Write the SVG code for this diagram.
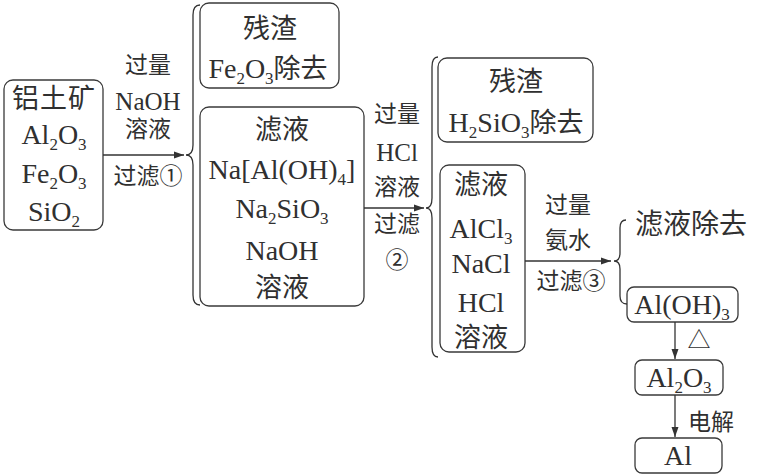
<svg xmlns="http://www.w3.org/2000/svg" width="757" height="475" viewBox="0 0 757 475">
<style>
text{font-family:"Liberation Serif","Noto Sans CJK SC",serif;fill:#303030;text-anchor:middle}
.b{font-size:28px}
.l{font-size:25px}
.c{font-size:27px}
.cl{font-size:23px}
.s{font-size:17px;baseline-shift:-6px}
.box{fill:none;stroke:#3a3a3a;stroke-width:1.3}
.ln{fill:none;stroke:#333;stroke-width:1.3}
</style>
<defs>
<marker id="ah" viewBox="0 0 10 10" refX="10" refY="5" markerWidth="10" markerHeight="10" markerUnits="userSpaceOnUse" orient="auto">
<path d="M0 1.5 L10 5 L0 8.5 Z" fill="#333"/>
</marker>
</defs>
<g id="n1">
<rect class="box" x="4" y="80" width="99" height="150" rx="9"/>
<text x="54" y="108" class="c" letter-spacing="1">铝土矿</text>
<text x="54" y="144" class="b">Al<tspan class="s">2</tspan>O<tspan class="s">3</tspan></text>
<text x="54" y="183" class="b">Fe<tspan class="s">2</tspan>O<tspan class="s">3</tspan></text>
<text x="54" y="221" class="b">SiO<tspan class="s">2</tspan></text>
</g>
<g id="n2">
<rect class="box" x="200" y="3" width="139" height="85" rx="9"/>
<text x="270" y="38" class="c">残渣</text>
<text x="268" y="78" class="b">Fe<tspan class="s">2</tspan>O<tspan class="s">3</tspan><tspan class="c">除去</tspan></text>
</g>
<g id="n3">
<rect class="box" x="200" y="107" width="164" height="199" rx="9"/>
<text x="282" y="139" class="c">滤液</text>
<text x="282" y="179" class="b">Na[Al(OH)<tspan class="s">4</tspan>]</text>
<text x="282" y="218" class="b">Na<tspan class="s">2</tspan>SiO<tspan class="s">3</tspan></text>
<text x="282" y="260" class="b">NaOH</text>
<text x="282" y="297" class="c">溶液</text>
</g>
<g id="n4">
<rect class="box" x="438" y="58" width="155" height="84" rx="9"/>
<text x="516" y="91" class="c">残渣</text>
<text x="516" y="132" class="b">H<tspan class="s">2</tspan>SiO<tspan class="s">3</tspan><tspan class="c">除去</tspan></text>
</g>
<g id="n5">
<rect class="box" x="440" y="165" width="85" height="187" rx="9"/>
<text x="481" y="194" class="c">滤液</text>
<text x="481" y="238" class="b">AlCl<tspan class="s">3</tspan></text>
<text x="481" y="273" class="b">NaCl</text>
<text x="481" y="312" class="b">HCl</text>
<text x="481" y="347" class="c">溶液</text>
</g>
<g id="n6">
<text x="691" y="234" font-size="28">滤液除去</text>
</g>
<g id="n7">
<rect class="box" x="627" y="287" width="111" height="35" rx="7"/>
<text x="682" y="314" class="b">Al(OH)<tspan class="s">3</tspan></text>
</g>
<g id="n8">
<rect class="box" x="635" y="360" width="88" height="35" rx="7"/>
<text x="679" y="387" class="b">Al<tspan class="s">2</tspan>O<tspan class="s">3</tspan></text>
</g>
<g id="n9">
<rect class="box" x="635" y="438" width="87" height="35" rx="7"/>
<text x="678" y="465" class="b">Al</text>
</g>
<g id="connectors">
<path class="ln" d="M103 155 H184" marker-end="url(#ah)"/>
<path class="ln" d="M200 5 Q193 5 193 15 V145 Q193 155 186 155 Q193 155 193 165 V295 Q193 305 200 305"/>
<path class="ln" d="M364 208 H424" marker-end="url(#ah)"/>
<path class="ln" d="M438 57 Q432 57 432 67 V198 Q432 208 426 208 Q432 208 432 218 V347 Q432 357 438 357"/>
<path class="ln" d="M525 261 H611" marker-end="url(#ah)"/>
<path class="ln" d="M626 220 Q620 220 620 228 V253 Q620 261 614 261 Q620 261 620 269 V296 Q620 304 627 304"/>
<path class="ln" d="M675 322 V359" marker-end="url(#ah)"/>
<path class="ln" d="M675 395 V437" marker-end="url(#ah)"/>
<text x="148" y="73" class="cl">过量</text>
<text x="148" y="110" class="l">NaOH</text>
<text x="148" y="137" class="cl">溶液</text>
<text x="148" y="184" class="cl">过滤①</text>
<text x="397" y="122" class="cl">过量</text>
<text x="397" y="161" class="l">HCl</text>
<text x="397" y="195" class="cl">溶液</text>
<text x="397" y="232" class="cl">过滤</text>
<text x="397" y="268" class="cl">②</text>
<text x="568" y="213" class="cl">过量</text>
<text x="568" y="248" class="cl">氨水</text>
<text x="571" y="289" class="cl">过滤③</text>
<text x="699" y="348" class="cl">△</text>
<text x="711" y="430" class="cl">电解</text>
</g>
</svg>
